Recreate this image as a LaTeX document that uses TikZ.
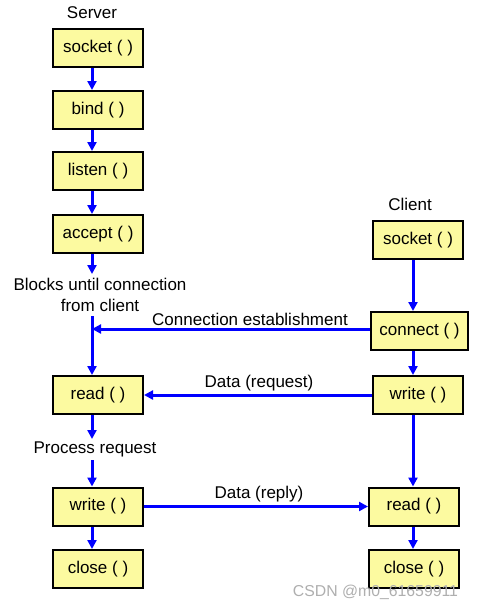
\documentclass[tikz,border=0pt]{standalone}
\usepackage{fontspec}
\setmainfont{Liberation Sans}
\usetikzlibrary{arrows.meta}
\definecolor{boxfill}{RGB}{252,250,160}
\definecolor{lineblue}{RGB}{0,0,255}
\definecolor{wmgray}{RGB}{175,175,175}
\begin{document}
\begin{tikzpicture}[x=1pt,y=-1pt,
  fnbox/.style={draw=black,line width=2pt,fill=boxfill,minimum width=90pt,minimum height=38pt,inner sep=0pt,font=\fontsize{17}{20}\selectfont},
  lbl/.style={font=\fontsize{17}{20}\selectfont,inner sep=0pt,align=center},
  flow/.style={draw=lineblue,line width=3pt,-{Triangle[length=9pt,width=9pt]}},
  plain/.style={draw=lineblue,line width=3pt}]
\useasboundingbox (0,0) rectangle (479,610);
\fill[white] (0,0) rectangle (479,610);
\coordinate (sx) at (92,0);
\coordinate (cx) at (413,0);
% server boxes
\node[fnbox] (ssock) at (98,48) {socket ( )};
\node[fnbox] (sbind) at (98,110) {bind ( )};
\node[fnbox] (slist) at (98,171) {listen ( )};
\node[fnbox] (sacc) at (98,234) {accept ( )};
\node[fnbox] (sread) at (98,395) {read ( )};
\node[fnbox] (swrite) at (98,506.5) {write ( )};
\node[fnbox] (sclose) at (98,569) {close ( )};
% client boxes
\node[fnbox] (csock) at (418,240) {socket ( )};
\node[fnbox,minimum width=97pt] (cconn) at (419.5,331) {connect ( )};
\node[fnbox] (cwrite) at (418,395) {write ( )};
\node[fnbox] (cread) at (414,506.5) {read ( )};
\node[fnbox] (cclose) at (414,569) {close ( )};
% labels
\node[lbl] (tserver) at (92,13) {Server};
\node[lbl] (tclient) at (410,204) {Client};
\node[lbl] (tblocks) at (100,295) {Blocks until connection\\[1pt]from client};
\node[lbl] (tconn) at (250,319) {Connection establishment};
\node[lbl] (treq) at (259,383) {Data (request)};
\node[lbl] (tproc) at (95,449) {Process request};
\node[lbl] (trep) at (259,494) {Data (reply)};
\node[font=\fontsize{15.8}{18}\selectfont,text=wmgray,inner sep=0pt] (wm) at (375.5,592) {CSDN @m0\_61659911};
% server flow
\draw[flow] (ssock.south -| sx) -- (sbind.north -| sx);
\draw[flow] (sbind.south -| sx) -- (slist.north -| sx);
\draw[flow] (slist.south -| sx) -- (sacc.north -| sx);
\coordinate (b1) at (92,274);
\coordinate (b2) at (92,316);
\draw[flow] (sacc.south -| sx) -- (b1);
\draw[flow] (b2) -- (sread.north -| sx);
\coordinate (p1) at (92,439);
\coordinate (p2) at (92,460);
\draw[flow] (sread.south -| sx) -- (p1);
\draw[flow] (p2) -- (swrite.north -| sx);
\draw[flow] (swrite.south -| sx) -- (sclose.north -| sx);
% client flow
\draw[flow] (csock.south -| cx) -- (cconn.north -| cx);
\draw[flow] (cconn.south -| cx) -- (cwrite.north -| cx);
\draw[flow] (cwrite.south -| cx) -- (cread.north -| cx);
\draw[flow] (cread.south -| cx) -- (cclose.north -| cx);
% cross messages
\coordinate (cy) at (0,329);
\draw[flow] (cconn.west |- cy) -- (sx |- cy);
\draw[flow] (cwrite.west) -- (sread.east);
\draw[flow] (swrite.east) -- (cread.west);
\end{tikzpicture}
\end{document}
